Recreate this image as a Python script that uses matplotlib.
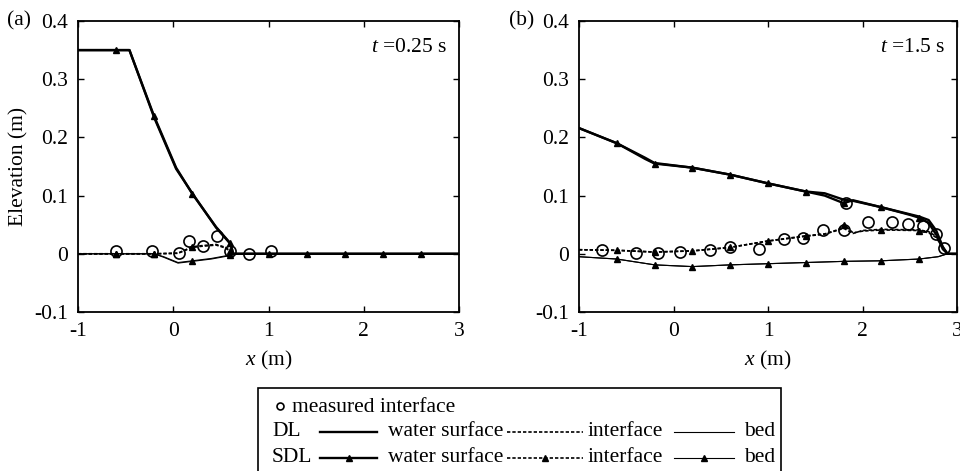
import numpy as np
import matplotlib
matplotlib.use("Agg")
import matplotlib.pyplot as plt
from matplotlib.lines import Line2D
from matplotlib.patches import Rectangle

plt.rcParams['font.family'] = ['Liberation Serif', 'DejaVu Serif']
plt.rcParams['font.size'] = 15.5
plt.rcParams['mathtext.fontset'] = 'custom'
plt.rcParams['mathtext.rm'] = 'Liberation Serif'
plt.rcParams['mathtext.it'] = 'Liberation Serif:italic'
plt.rcParams['axes.unicode_minus'] = False

# ---- panel (a), t = 0.25 s ----
a_ws_x = [-1, -0.6, -0.46, -0.2, 0.03, 0.2, 0.45, 0.6, 0.63, 1.0, 1.4, 1.8, 2.2, 2.6, 3]
a_ws_dl = [0.35, 0.35, 0.35, 0.234, 0.146, 0.104, 0.045, 0.017, 0, 0, 0, 0, 0, 0, 0]
a_ws_sdl = [0.35, 0.35, 0.35, 0.236, 0.148, 0.103, 0.046, 0.018, 0, 0, 0, 0, 0, 0, 0]

a_if_x = [-1, -0.6, -0.2, 0.05, 0.2, 0.3, 0.45, 0.55, 0.6, 0.63]
a_if_dl = [0, 0, 0, 0.001, 0.012, 0.014, 0.016, 0.011, 0.004, 0]
a_if_sdl = [0, 0, 0, 0.001, 0.011, 0.013, 0.015, 0.010, 0.004, 0]

a_bed_x = [-1, -0.6, -0.2, -0.1, 0.05, 0.2, 0.4, 0.6, 0.63]
a_bed_dl = [0, 0, 0, -0.006, -0.016, -0.013, -0.009, -0.003, 0]
a_bed_sdl = [0, 0, 0, -0.005, -0.015, -0.012, -0.008, -0.002, 0]

a_meas_x = [-0.6, -0.22, 0.06, 0.17, 0.31, 0.46, 0.6, 0.8, 1.03]
a_meas_y = [0.004, 0.004, 0.001, 0.022, 0.014, 0.031, 0.004, 0.0, 0.004]

# ---- panel (b), t = 1.5 s ----
b_ws_x = [-1, -0.6, -0.3, -0.2, 0.2, 0.6, 1.0, 1.4, 1.6, 1.8, 1.9, 2.2, 2.5, 2.6, 2.7, 2.78, 2.85, 2.9, 3]
b_ws_dl = [0.216, 0.19, 0.165, 0.156, 0.148, 0.136, 0.121, 0.107, 0.104, 0.093, 0.091, 0.08, 0.068, 0.064, 0.058, 0.04, 0.012, 0, 0]
b_ws_sdl = [0.216, 0.19, 0.163, 0.155, 0.148, 0.136, 0.121, 0.107, 0.100, 0.087, 0.092, 0.08, 0.067, 0.062, 0.053, 0.033, 0.008, 0, 0]

b_if_x = [-1, -0.6, -0.2, 0.2, 0.6, 1.0, 1.4, 1.6, 1.75, 1.8, 1.9, 2.0, 2.2, 2.6, 2.7, 2.78, 2.85, 2.9]
b_if_dl = [0.007, 0.006, 0.003, 0.005, 0.011, 0.022, 0.031, 0.034, 0.041, 0.044, 0.035, 0.040, 0.042, 0.041, 0.038, 0.030, 0.012, 0]
b_if_sdl = [0.007, 0.006, 0.003, 0.005, 0.011, 0.022, 0.030, 0.034, 0.042, 0.050, 0.036, 0.039, 0.041, 0.040, 0.036, 0.028, 0.010, 0]

b_bed_x = [-1, -0.6, -0.2, 0.2, 0.6, 1.0, 1.4, 1.8, 2.2, 2.6, 2.8, 2.9, 3]
b_bed_dl = [-0.005, -0.009, -0.019, -0.022, -0.019, -0.017, -0.015, -0.013, -0.012, -0.009, -0.005, 0, 0]
b_bed_sdl = [-0.005, -0.009, -0.019, -0.022, -0.019, -0.017, -0.015, -0.013, -0.012, -0.009, -0.005, 0, 0]

b_meas_x = [-0.76, -0.40, -0.16, 0.07, 0.39, 0.60, 0.90, 1.17, 1.37, 1.58, 1.80, 1.83, 2.06, 2.31, 2.48, 2.64, 2.78, 2.86]
b_meas_y = [0.007, 0.001, 0.001, 0.003, 0.007, 0.011, 0.008, 0.026, 0.028, 0.041, 0.041, 0.088, 0.055, 0.055, 0.052, 0.047, 0.034, 0.010]

# SDL markers every 0.4 m
sdl_marks = [-0.6, -0.2, 0.2, 0.6, 1.0, 1.4, 1.8, 2.2, 2.6]

x_ticks = [-1, 0, 1, 2, 3]
x_tick_labels = ['-1', '0', '1', '2', '3']
y_ticks = [-0.1, 0, 0.1, 0.2, 0.3, 0.4]
y_tick_labels = ['-0.1', '0', '0.1', '0.2', '0.3', '0.4']


def mark_idx(xs):
    return [i for i, v in enumerate(xs) if v in sdl_marks]


def draw_panel(ax, ws_x, ws_dl, ws_sdl, if_x, if_dl, if_sdl, bed_x, bed_dl, bed_sdl,
               meas_x, meas_y, title):
    # DL
    ax.plot(ws_x, ws_dl, color='k', lw=1.7)
    ax.plot(if_x, if_dl, color='k', lw=1.2, ls=(0, (2, 1.2)))
    ax.plot(bed_x, bed_dl, color='k', lw=0.8)
    # SDL
    ax.plot(ws_x, ws_sdl, color='k', lw=1.7, marker='^', ms=4, markevery=mark_idx(ws_x))
    ax.plot(if_x, if_sdl, color='k', lw=1.2, ls=(0, (2, 1.2)), marker='^', ms=4,
            markevery=mark_idx(if_x))
    ax.plot(bed_x, bed_sdl, color='k', lw=0.8, marker='^', ms=4, markevery=mark_idx(bed_x))
    # measured
    ax.plot(meas_x, meas_y, ls='none', marker='o', ms=8, mfc='none', mec='k', mew=1.2)

    ax.set_xlim(-1, 3)
    ax.set_ylim(-0.1, 0.4)
    ax.set_xticks(x_ticks)
    ax.set_xticklabels(x_tick_labels)
    ax.set_yticks(y_ticks)
    ax.set_yticklabels(y_tick_labels)
    ax.tick_params(direction='in', top=True, right=True, length=4, width=1, pad=7)
    for s in ax.spines.values():
        s.set_linewidth(1.3)
    ax.set_xlabel(r'$x$ (m)', labelpad=6)
    ax.text(0.968, 0.91, title, transform=ax.transAxes, ha='right', va='center')


fig = plt.figure(figsize=(9.6, 4.71), dpi=100)
ax1 = fig.add_axes([78 / 960, 1 - 312 / 471, 381 / 960, 291 / 471])
ax2 = fig.add_axes([579 / 960, 1 - 312 / 471, 378 / 960, 291 / 471])

draw_panel(ax1, a_ws_x, a_ws_dl, a_ws_sdl, a_if_x, a_if_dl, a_if_sdl,
           a_bed_x, a_bed_dl, a_bed_sdl, a_meas_x, a_meas_y, r'$t$ =0.25 s')
draw_panel(ax2, b_ws_x, b_ws_dl, b_ws_sdl, b_if_x, b_if_dl, b_if_sdl,
           b_bed_x, b_bed_dl, b_bed_sdl, b_meas_x, b_meas_y, r'$t$ =1.5 s')
ax1.set_ylabel('Elevation (m)')

fig.text(7 / 960, 1 - 21 / 471, '(a)', va='center')
fig.text(509 / 960, 1 - 21 / 471, '(b)', va='center')

# ---- legend box (custom layout) ----
W, H = 960, 471
fig.add_artist(Rectangle((258 / W, -0.05), (781 - 258) / W, 0.05 + 1 - 388 / H,
                         transform=fig.transFigure, fill=False, lw=1.2, ec='k', clip_on=False))


def fy(py):
    return 1 - py / H


def seg(x0, x1, py, ls, lw, mark):
    fig.add_artist(Line2D([x0 / W, x1 / W], [fy(py), fy(py)], transform=fig.transFigure,
                          color='k', lw=lw, ls=ls))
    if mark:
        fig.add_artist(Line2D([(x0 + x1) / 2 / W], [fy(py)], transform=fig.transFigure,
                              color='k', marker='^', ms=4, ls='none'))


fig.add_artist(Line2D([280 / W], [fy(406)], transform=fig.transFigure, ls='none',
                      marker='o', ms=5, mfc='none', mec='k', mew=1.2))
fig.text(292 / W, fy(407), 'measured interface', va='center')
for py, name, mark in [(432, 'DL', False), (458, 'SDL', True)]:
    fig.text(272 / W, fy(py), name, va='center')
    seg(320, 377, py, '-', 1.7, mark)
    fig.text(388 / W, fy(py), 'water surface', va='center')
    seg(507, 583, py, (0, (2, 1.2)), 1.2, mark)
    fig.text(588 / W, fy(py), 'interface', va='center')
    seg(674, 734, py, '-', 0.8, mark)
    fig.text(744 / W, fy(py), 'bed', va='center')

fig.savefig('out.png', dpi=100)
